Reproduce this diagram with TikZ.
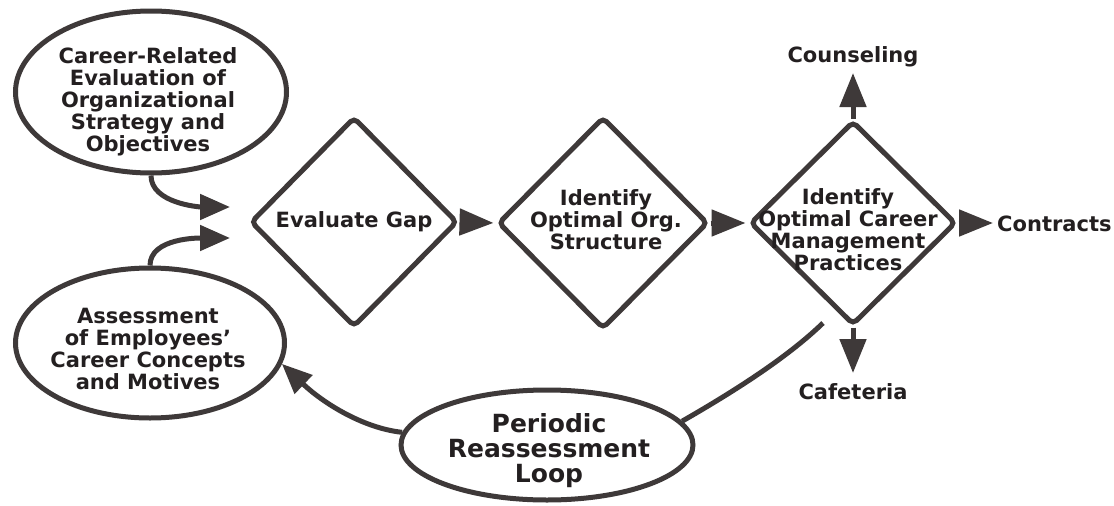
\documentclass[tikz,border=0pt]{standalone}
\usepackage{fontspec}
\setmainfont{DejaVu Sans}
\usetikzlibrary{shapes.geometric,arrows.meta}
\definecolor{ln}{HTML}{3E3939}
\definecolor{tx}{HTML}{231F20}
\begin{document}
\begin{tikzpicture}[x=1pt,y=1pt,
  shp/.style={draw=ln,line width=5pt,fill=white,inner sep=0pt},
  ell/.style={shp,ellipse},
  dia/.style={shp,diamond,rounded corners=5pt},
  txt/.style={text=tx,align=center,inner sep=0pt,font=\fontsize{21}{22}\selectfont\bfseries},
  bigtxt/.style={txt,font=\fontsize{25}{25}\selectfont\bfseries},
  lnk/.style={draw=ln,line width=5pt},
  arr/.style={lnk,-{Triangle[length=34pt,width=26pt]}},
  arrs/.style={lnk,-{Triangle[length=30pt,width=25pt]}}]
\useasboundingbox[fill=white] (0,0) rectangle (1114,-506);
% shapes
\node[ell,minimum width=271pt,minimum height=162pt] (e1) at (151,-92) {};
\node[ell,minimum width=269pt,minimum height=150pt] (e2) at (150,-343) {};
\node[ell,minimum width=292pt,minimum height=110pt] (e3) at (547,-445) {};
\node[dia,minimum width=207pt,minimum height=210pt] (d1) at (354,-222) {};
\node[dia,minimum width=210pt,minimum height=212pt] (d2) at (603,-223) {};
\node[dia,minimum width=206pt,minimum height=204pt] (d3) at (853,-223) {};
% texts
\node[txt] (t1) at (148,-102) {Career-Related\\Evaluation of\\Organizational\\Strategy and\\Objectives};
\node[txt] (t2) at (148,-349) {Assessment\\of Employees’\\Career Concepts\\and Motives};
\node[bigtxt] (t3) at (549,-451) {Periodic\\Reassessment\\Loop};
\node[txt] (t4) at (354,-222) {Evaluate Gap};
\node[txt] (t5) at (606,-220) {Identify\\Optimal Org.\\Structure};
\node[txt] (t6) at (848,-230) {Identify\\Optimal Career\\Management\\Practices};
\node[txt] (coun) at (853,-57) {Counseling};
\node[txt,anchor=west] (cont) at (997,-224) {Contracts};
\node[txt] (cafe) at (853,-392) {Cafeteria};
% free ends
\coordinate (a1) at (230,-207);
\coordinate (a2) at (230,-238);
\coordinate (tc) at (853,-73);
\coordinate (tr) at (993,-223);
\coordinate (tb) at (853,-373);
\coordinate (p1) at (823,-323);
% connectors
\draw[arrs] (e1.south) .. controls +(0,-28) and +(-30,0) .. (a1);
\draw[arrs] (e2.north) .. controls +(0,28) and +(-30,0) .. (a2);
\draw[arr,shorten >=2pt] (d1.east) -- (d2.west);
\draw[arr,shorten >=2pt] (d2.east) -- (d3.west);
\draw[arr] (d3.north) -- (tc);
\draw[arr] (d3.east) -- (tr);
\draw[arr] (d3.south) -- (tb);
\draw[lnk] (e3.10) .. controls (740,-388) and (790,-355) .. (p1);
\draw[arrs] (e3.175) .. controls (362,-428) and (322,-402) .. (e2.-9);
\end{tikzpicture}
\end{document}
